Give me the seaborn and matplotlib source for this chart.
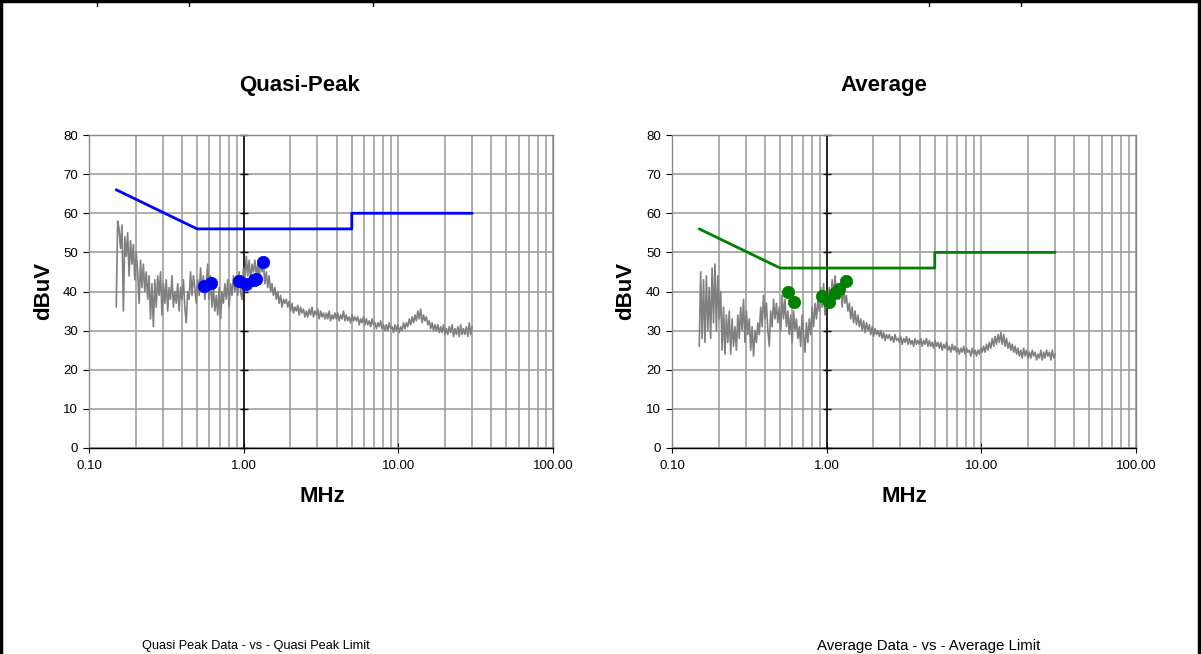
import numpy as np
import pandas as pd
import matplotlib
matplotlib.use("Agg")
import matplotlib.pyplot as plt
import seaborn as sns
from matplotlib.ticker import LogLocator, FixedLocator, FuncFormatter, NullFormatter
from matplotlib.lines import Line2D

sns.set_theme(style="white")
plt.rcParams['font.family'] = ['Liberation Sans', 'DejaVu Sans']
plt.rcParams['text.color'] = 'black'
plt.rcParams['axes.labelcolor'] = 'black'
plt.rcParams['xtick.color'] = 'black'
plt.rcParams['ytick.color'] = 'black'

# ---------------- data ----------------
qp_trace = [
    36, 58, 56, 51, 57, 35, 54,
    49, 55, 44, 53, 47, 52, 43,
    50, 45, 37, 48, 41, 47, 40,
    45, 38, 44, 33, 42, 31, 43,
    36, 44, 39, 45, 34, 42, 37,
    43, 35, 41, 38, 44, 36, 40,
    37, 42, 35, 41, 38, 43, 36,
    32, 40, 38, 45, 39, 44, 41,
    37, 43, 39, 46, 40, 44, 38,
    42, 47, 38, 44, 36, 41, 35,
    39, 34, 41, 33, 40, 37, 42,
    38, 43, 36, 42, 39, 44, 40,
    44, 39, 45, 40, 38, 46, 43,
    49, 44, 48, 42, 47, 45, 48,
    44, 47, 43, 48, 45, 47, 42,
    45, 41, 44, 40, 42, 39, 41,
    38, 40, 37, 39, 36, 38, 37,
    38, 36, 37.5, 35, 37, 34.5, 36,
    35, 36.5, 34, 36, 34.5, 35.5, 33.5,
    35, 33.5, 35.5, 34, 36, 33.5, 35,
    34, 35.5, 33, 35, 33.5, 34.5, 33,
    34.5, 33, 35, 32.5, 34, 33, 34.5,
    33, 34.5, 32.5, 34, 33, 35, 32.5,
    34, 32.5, 33.5, 32, 34, 32.5, 33.5,
    32.5, 33.5, 31.5, 33, 32, 33.5, 31.5,
    33, 31.5, 32.5, 31, 33, 31.5, 32,
    30.5, 32, 31, 32.5, 30.5, 31.5, 30,
    31.5, 30, 32, 30.5, 31, 29.5, 31.5,
    30, 31.5, 29.5, 31, 30, 32, 30.5,
    32, 31, 33, 31.5, 33.5, 32, 34,
    32.5, 35, 33, 35.5, 32, 34, 32.5,
    33.5, 31.5, 32.5, 30.5, 32, 30, 31.5,
    30, 31.5, 29.5, 31, 29.5, 31.5, 29,
    30.5, 29, 31, 29.5, 31.5, 28.5, 30.5,
    29, 31, 28.5, 31.5, 29, 30.5, 29,
    31, 28.5, 32, 29, 31,
]

avg_trace = [
    26, 45, 28, 43, 27, 44, 30,
    41, 28, 46, 32, 47, 30, 44,
    33, 40, 25, 36, 24, 34, 27,
    35, 24, 33, 26, 31, 25, 34,
    28, 36, 30, 38, 27, 35, 29,
    33, 25, 31, 23.5, 30, 27, 32,
    29, 36, 31, 39, 33, 37, 30,
    26, 35, 31, 38, 33, 37, 32,
    36, 30, 39, 33, 38, 31, 35,
    29, 34, 27, 35, 30, 33, 28,
    31, 26, 34, 29, 24.5, 32, 27,
    33, 29, 36, 31, 37, 33, 38,
    35, 41, 36, 42, 34, 40, 37,
    41, 36, 43, 38, 44, 39, 42,
    38, 42, 36, 41, 37, 39, 35,
    37, 33, 36, 32, 35, 31.5, 34,
    31, 33, 30, 32.5, 29.5, 32, 30,
    31.5, 29, 31, 28.5, 30.5, 29, 30,
    28.5, 30, 28, 29.5, 27.5, 29, 28,
    29, 27.5, 28.5, 27, 29, 27.5, 28,
    27, 28.5, 26.5, 28, 27, 28.5, 26.5,
    28, 26.5, 27.5, 26, 28, 26.5, 27.5,
    26.5, 28, 26, 27.5, 26.5, 28, 26,
    27.5, 26, 27, 25.5, 27.5, 26, 27,
    25.5, 27, 25, 26.5, 25.5, 27, 25,
    26, 24.5, 26.5, 25, 26, 24.5, 25.5,
    24, 25.5, 24.5, 26, 24, 25.5, 24.5,
    25, 23.5, 25.5, 24, 25, 23.5, 25,
    24, 25.5, 24.5, 26, 24.5, 26.5, 25,
    27, 25.5, 28, 26, 28.5, 26.5, 29,
    27, 29.5, 26.5, 29, 26, 28, 25.5,
    27, 25, 26.5, 24.5, 26, 24, 25.5,
    23.5, 25, 23, 25.5, 23.5, 25, 23,
    24.5, 23, 25, 23.5, 24.5, 22.5, 24,
    23, 25, 22.5, 24.5, 23, 25, 23.5,
    24.5, 22.5, 25, 23, 24,
]

sweep_start, sweep_stop = 0.15, 30.0

limit_freq = [0.15, 0.5, 5.0, 5.0, 30.0]
qp_limit = [66, 56, 56, 60, 60]
avg_limit = [56, 46, 46, 50, 50]

qp_pts_freq = [0.555, 0.619, 0.928, 1.04, 1.16, 1.21, 1.34]
qp_pts_val = [41.5, 42.3, 42.7, 41.9, 43.0, 43.3, 47.5]

avg_pts_freq = [0.563, 0.613, 0.933, 1.035, 1.127, 1.20, 1.34]
avg_pts_val = [39.8, 37.2, 38.9, 37.2, 39.6, 40.6, 42.7]

y_ticks = [0, 10, 20, 30, 40, 50, 60, 70, 80]
x_ticks = [0.1, 1, 10, 100]
x_tick_labels = ["0.10", "1.00", "10.00", "100.00"]

titles = ["Quasi-Peak", "Average"]
captions = ["Quasi Peak Data - vs - Quasi Peak Limit", "Average Data - vs - Average Limit"]
ylabel = "dBuV"
xlabel = "MHz"

# ---------------- figure ----------------
W, H = 1201, 654
fig = plt.figure(figsize=(W / 100, H / 100), dpi=100)
fig.patch.set_facecolor("white")

def fx(px):
    return px / W

def fy(py):
    return 1 - py / H

ax_w = fx(553 - 89)
ax_h = fy(135) - fy(448)
axes = [fig.add_axes([fx(89), fy(448), ax_w, ax_h]),
        fig.add_axes([fx(672), fy(448), ax_w, ax_h])]

panels = [
    (qp_trace, qp_limit, qp_pts_freq, qp_pts_val, "#0000ff"),
    (avg_trace, avg_limit, avg_pts_freq, avg_pts_val, "#008000"),
]

grid_col = "#a0a0a0"
for ax, (trace, limit, pf, pv, col) in zip(axes, panels):
    freq = np.geomspace(sweep_start, sweep_stop, len(trace))
    df_t = pd.DataFrame({"f": freq, "v": trace})
    df_l = pd.DataFrame({"f": limit_freq, "v": limit})
    df_p = pd.DataFrame({"f": pf, "v": pv})

    ax.set_xscale("log")
    ax.set_xlim(0.1, 100)
    ax.set_ylim(0, 80)

    ax.xaxis.set_major_locator(FixedLocator(x_ticks))
    ax.xaxis.set_major_formatter(FuncFormatter(lambda v, p: x_tick_labels[x_ticks.index(v)] if v in x_ticks else ""))
    ax.xaxis.set_minor_locator(LogLocator(base=10, subs=np.arange(2, 10)))
    ax.xaxis.set_minor_formatter(NullFormatter())
    ax.yaxis.set_major_locator(FixedLocator(y_ticks))

    ax.grid(True, which="both", axis="x", color=grid_col, lw=1.2, zorder=0)
    ax.grid(True, which="major", axis="y", color=grid_col, lw=1.2, zorder=0)
    ax.set_axisbelow(True)

    for s in ["top", "right", "left"]:
        ax.spines[s].set_color("#888888")
        ax.spines[s].set_linewidth(1.0)
    ax.spines["bottom"].set_color("black")
    ax.spines["bottom"].set_linewidth(1.0)

    ax.tick_params(axis="y", which="major", direction="out", length=4, width=0.8,
                   color="black", labelsize=9.5, pad=4, left=True, labelcolor="black")
    ax.tick_params(axis="x", which="major", direction="inout", length=7, width=0.8,
                   color="black", labelsize=9.5, pad=5, bottom=True, labelcolor="black")
    ax.tick_params(axis="x", which="minor", length=0)

    # value axis crossing at 1 MHz
    ax.axvline(1, color="black", lw=1.1, zorder=2)
    ax.plot([1] * len(y_ticks), y_ticks, ls="none", marker="_", ms=6, mew=1.0,
            color="black", zorder=2, clip_on=False)

    sns.lineplot(data=df_t, x="f", y="v", ax=ax, estimator=None, sort=False,
                 color="#808080", lw=1.2, zorder=3)
    sns.lineplot(data=df_l, x="f", y="v", ax=ax, estimator=None, sort=False,
                 color=col, lw=2.0, zorder=4)
    sns.scatterplot(data=df_p, x="f", y="v", ax=ax, color=col, s=80,
                    edgecolor=col, linewidth=0.5, zorder=5)
    ax.set_xlabel("")
    ax.set_ylabel("")

# titles and labels
bold = dict(fontsize=16, fontweight="bold", color="black")
fig.text(fx(300), fy(85), titles[0], ha="center", va="center", **bold)
fig.text(fx(884), fy(85), titles[1], ha="center", va="center", **bold)
fig.text(fx(44), fy(291), ylabel, ha="center", va="center", rotation=90, **bold)
fig.text(fx(626), fy(291), ylabel, ha="center", va="center", rotation=90, **bold)
fig.text(fx(322), fy(497), xlabel, ha="center", va="center", **bold)
fig.text(fx(904), fy(497), xlabel, ha="center", va="center", **bold)
fig.text(fx(256), fy(646), captions[0], ha="center", va="center", fontsize=9.2, color="black")
fig.text(fx(929), fy(646), captions[1], ha="center", va="center", fontsize=10.8, color="black")

# outer frame (top, left, right)
frame_kw = dict(color="black", lw=2.5, transform=fig.transFigure)
fig.add_artist(Line2D([0, 1], [fy(1), fy(1)], **frame_kw))
fig.add_artist(Line2D([fx(1), fx(1)], [0, 1], **frame_kw))
fig.add_artist(Line2D([fx(1199), fx(1199)], [0, 1], **frame_kw))
for tx in [97, 189, 373, 929, 1021]:
    fig.add_artist(Line2D([fx(tx), fx(tx)], [fy(1), fy(6)], color="black", lw=1.0,
                          transform=fig.transFigure))

fig.savefig("out.png", dpi=100, facecolor="white")
